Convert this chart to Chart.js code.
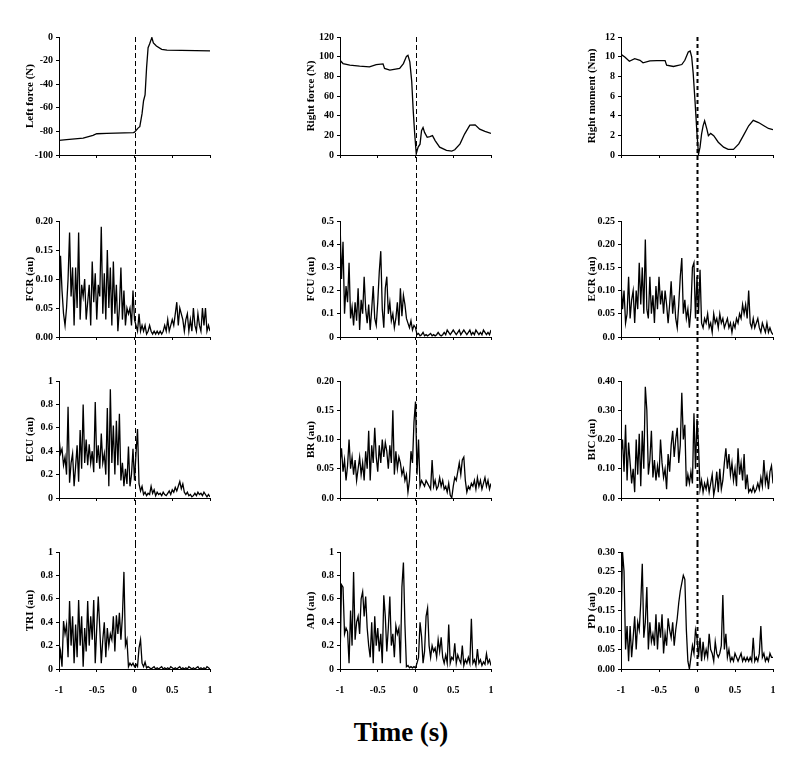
<!DOCTYPE html>
<html>
<head>
<meta charset="utf-8">
<script src="https://cdn.jsdelivr.net/npm/chart.js@4.4.0/dist/chart.umd.min.js"></script>
<style>
  body { margin: 0; background: #fff; width: 800px; height: 759px; position: relative; overflow: hidden; }
  canvas { position: absolute; }
  #xtitle { position: absolute; left: 0; width: 802px; top: 717px; text-align: center;
            font: bold 27px 'Liberation Serif', 'Times New Roman', serif; color: #000; }
</style>
</head>
<body>
<div id="xtitle">Time (s)</div>
<script>
// force / moment traces: time (s) and value
var leftForceTime = [-1, -0.9, -0.68, -0.55, -0.5, -0.37, -0.015, 0.0, 0.05, 0.07, 0.1, 0.12, 0.14, 0.16, 0.18, 0.2, 0.23, 0.25, 0.29, 0.36, 0.43, 1];
var leftForce = [-87.6, -87, -85.7, -83.4, -82, -81.7, -81, -80.6, -77, -76, -65, -54, -49, -26, -9, -6, -0.5, -5, -7.6, -10.4, -11.2, -11.8];

var rightForceTime = [-1, -0.96, -0.87, -0.74, -0.61, -0.52, -0.43, -0.41, -0.34, -0.21, -0.16, -0.12, -0.1, -0.075, -0.05, -0.03, -0.01, 0.01, 0.035, 0.06, 0.08, 0.1, 0.12, 0.155, 0.19, 0.225, 0.26, 0.32, 0.41, 0.48, 0.52, 0.59, 0.65, 0.72, 0.79, 0.85, 0.92, 1];
var rightForce = [96.3, 93, 91.3, 90.3, 89.7, 92, 92.7, 88, 86.3, 88, 93, 100.3, 101.3, 94.7, 74.7, 44.7, 21, 1.3, 8, 11, 24.7, 28, 23, 18, 18.7, 19.7, 14.7, 8, 4.7, 4, 5.3, 11.3, 21.3, 30.3, 30.7, 26.3, 24, 22];

var rightMomentTime = [-1, -0.95, -0.89, -0.82, -0.75, -0.71, -0.62, -0.53, -0.42, -0.4, -0.31, -0.2, -0.16, -0.115, -0.09, -0.07, -0.05, -0.026, 0, 0.02, 0.04, 0.06, 0.08, 0.1, 0.13, 0.15, 0.18, 0.22, 0.28, 0.35, 0.41, 0.48, 0.55, 0.61, 0.68, 0.74, 0.81, 0.88, 0.94, 1];
var rightMoment = [10.23, 9.97, 9.53, 9.8, 9.63, 9.37, 9.57, 9.6, 9.6, 9.13, 9.0, 9.2, 9.63, 10.47, 10.57, 9.97, 8.3, 5.47, 2.13, 0.07, 0.8, 2.13, 2.97, 3.47, 2.63, 1.97, 2.2, 1.97, 1.3, 0.8, 0.57, 0.57, 1.13, 1.97, 2.97, 3.53, 3.3, 2.97, 2.7, 2.57];

// EMG traces, evenly sampled from -1 s to 1 s
var fcr = [0.02, 0.14, 0.08, 0.04, 0.02, 0.05, 0.10, 0.18, 0.07, 0.12,
  0.02, 0.12, 0.05, 0.18, 0.03, 0.09, 0.07, 0.10, 0.03, 0.06,
  0.09, 0.02, 0.13, 0.06, 0.11, 0.03, 0.09, 0.07, 0.19, 0.04,
  0.11, 0.03, 0.15, 0.05, 0.12, 0.02, 0.13, 0.04, 0.09, 0.01,
  0.05, 0.12, 0.03, 0.08, 0.02, 0.05, 0.04, 0.05, 0.02, 0.08,
  0.03, 0.02, 0.01, 0.04, 0.01, 0.02, 0.01, 0.02, 0.005, 0.01,
  0.02, 0.01, 0.005, 0.01, 0.005, 0.01, 0.005, 0.01, 0.005, 0.01,
  0.02, 0.01, 0.03, 0.01, 0.02, 0.03, 0.02, 0.04, 0.06, 0.02,
  0.05, 0.04, 0.03, 0.01, 0.03, 0.04, 0.01, 0.03, 0.01, 0.05,
  0.02, 0.01, 0.04, 0.02, 0.01, 0.05, 0.02, 0.05, 0.01, 0.02, 0.01];
var fcu = [0.50, 0.25, 0.41, 0.10, 0.22, 0.15, 0.32, 0.08, 0.13, 0.05,
  0.15, 0.07, 0.21, 0.03, 0.16, 0.10, 0.26, 0.12, 0.06, 0.14,
  0.03, 0.12, 0.22, 0.08, 0.05, 0.15, 0.28, 0.37, 0.12, 0.04,
  0.21, 0.26, 0.10, 0.15, 0.07, 0.10, 0.04, 0.08, 0.15, 0.05,
  0.21, 0.09, 0.18, 0.14, 0.08, 0.06, 0.04, 0.07, 0.03, 0.05,
  0.04, 0.01, 0.015, 0.005, 0.01, 0.02, 0.005, 0.01, 0.005, 0.01,
  0.015, 0.005, 0.01, 0.005, 0.01, 0.02, 0.01, 0.005, 0.01, 0.02,
  0.01, 0.03, 0.02, 0.01, 0.02, 0.03, 0.02, 0.01, 0.02, 0.03,
  0.01, 0.02, 0.03, 0.02, 0.01, 0.02, 0.03, 0.01, 0.02, 0.01,
  0.03, 0.02, 0.01, 0.02, 0.01, 0.03, 0.02, 0.01, 0.02, 0.01, 0.03];
var ecr = [0.12, 0.06, 0.10, 0.03, 0.05, 0.13, 0.04, 0.08, 0.10, 0.03,
  0.10, 0.06, 0.16, 0.07, 0.15, 0.05, 0.21, 0.06, 0.04, 0.13,
  0.05, 0.09, 0.03, 0.11, 0.06, 0.13, 0.07, 0.10, 0.05, 0.10,
  0.07, 0.03, 0.07, 0.12, 0.05, 0.09, 0.04, 0.02, 0.07, 0.13,
  0.17, 0.05, 0.08, 0.04, 0.06, 0.02, 0.06, 0.15, 0.16, 0.04,
  0.13, 0.05, 0.145, 0.03, 0.02, 0.04, 0.03, 0.05, 0.02, 0.03,
  0.01, 0.05, 0.03, 0.04, 0.02, 0.05, 0.03, 0.04, 0.02, 0.03,
  0.04, 0.02, 0.03, 0.01, 0.03, 0.02, 0.04, 0.03, 0.05, 0.04,
  0.07, 0.05, 0.07, 0.04, 0.10, 0.03, 0.02, 0.04, 0.02, 0.03,
  0.04, 0.02, 0.01, 0.03, 0.02, 0.01, 0.03, 0.01, 0.02, 0.01, 0.005];
var ecu = [0.52, 0.38, 0.42, 0.28, 0.35, 0.20, 0.78, 0.13, 0.30, 0.38,
  0.10, 0.27, 0.45, 0.14, 0.58, 0.25, 0.80, 0.30, 0.50, 0.28,
  0.46, 0.30, 0.40, 0.22, 0.82, 0.30, 0.45, 0.25, 0.55, 0.30,
  0.38, 0.20, 0.77, 0.10, 0.93, 0.30, 0.62, 0.20, 0.66, 0.28,
  0.72, 0.15, 0.30, 0.10, 0.25, 0.12, 0.44, 0.10, 0.20, 0.42,
  0.15, 0.38, 0.59, 0.12, 0.06, 0.10, 0.03, 0.05, 0.02, 0.04,
  0.03, 0.10, 0.04, 0.07, 0.02, 0.05, 0.03, 0.04, 0.02, 0.05,
  0.03, 0.02, 0.04, 0.06, 0.03, 0.07, 0.05, 0.09, 0.06, 0.10,
  0.14, 0.08, 0.12, 0.05, 0.03, 0.05, 0.02, 0.03, 0.01, 0.02,
  0.04, 0.02, 0.05, 0.03, 0.04, 0.02, 0.05, 0.03, 0.01, 0.03, 0.01];
var br = [0.06, 0.085, 0.045, 0.065, 0.03, 0.055, 0.10, 0.05, 0.07, 0.04,
  0.065, 0.03, 0.05, 0.07, 0.04, 0.06, 0.03, 0.08, 0.05, 0.115,
  0.03, 0.09, 0.06, 0.12, 0.07, 0.045, 0.09, 0.06, 0.10, 0.07,
  0.095, 0.08, 0.05, 0.09, 0.06, 0.15, 0.04, 0.08, 0.05, 0.07,
  0.06, 0.04, 0.05, 0.03, 0.04, 0.01, 0.03, 0.08, 0.06, 0.13,
  0.165, 0.04, 0.10, 0.02, 0.03, 0.025, 0.02, 0.03, 0.025, 0.02,
  0.015, 0.065, 0.02, 0.03, 0.015, 0.02, 0.035, 0.02, 0.03, 0.015,
  0.02, 0.01, 0.025, 0.005, 0.0, 0.02, 0.035, 0.03, 0.045, 0.06,
  0.04, 0.065, 0.07, 0.03, 0.01, 0.02, 0.015, 0.025, 0.02, 0.03,
  0.015, 0.035, 0.02, 0.03, 0.015, 0.025, 0.035, 0.02, 0.03, 0.015, 0.025];
var bic = [0.15, 0.20, 0.09, 0.25, 0.06, 0.19, 0.12, 0.05, 0.10, 0.02,
  0.20, 0.08, 0.22, 0.04, 0.23, 0.10, 0.38, 0.30, 0.08, 0.13,
  0.23, 0.07, 0.13, 0.06, 0.11, 0.07, 0.20, 0.12, 0.07, 0.10,
  0.03, 0.15, 0.09, 0.18, 0.23, 0.14, 0.20, 0.24, 0.12, 0.18,
  0.36, 0.20, 0.25, 0.04, 0.08, 0.05, 0.09, 0.05, 0.29, 0.10,
  0.27, 0.18, 0.03, 0.06, 0.02, 0.05, 0.03, 0.06, 0.02, 0.05,
  0.08, 0.01, 0.04, 0.09, 0.02, 0.10, 0.03, 0.06, 0.12, 0.17,
  0.10, 0.15, 0.08, 0.12, 0.06, 0.10, 0.04, 0.17, 0.08, 0.12,
  0.06, 0.15, 0.03, 0.08, 0.02, 0.03, 0.02, 0.04, 0.02, 0.03,
  0.05, 0.03, 0.07, 0.04, 0.13, 0.05, 0.08, 0.03, 0.09, 0.11, 0.05];
var tri = [0.05, 0.15, 0.02, 0.41, 0.30, 0.38, 0.10, 0.58, 0.20, 0.45,
  0.05, 0.38, 0.10, 0.59, 0.20, 0.45, 0.02, 0.35, 0.15, 0.58,
  0.20, 0.45, 0.25, 0.59, 0.05, 0.35, 0.62, 0.35, 0.05, 0.25,
  0.40, 0.10, 0.35, 0.20, 0.30, 0.25, 0.45, 0.15, 0.46, 0.30,
  0.48, 0.25, 0.45, 0.83, 0.20, 0.25, 0.02, 0.05, 0.03, 0.05,
  0.02, 0.04, 0.02, 0.18, 0.25, 0.05, 0.02, 0.06, 0.01, 0.02,
  0.01, 0.0, 0.01, 0.02, 0.0, 0.01, 0.0, 0.01, 0.02, 0.0,
  0.01, 0.0, 0.01, 0.0, 0.02, 0.01, 0.0, 0.01, 0.0, 0.01,
  0.02, 0.0, 0.01, 0.0, 0.01, 0.0, 0.02, 0.01, 0.0, 0.01,
  0.0, 0.01, 0.02, 0.0, 0.01, 0.0, 0.01, 0.0, 0.02, 0.01, 0.0];
var ad = [0.05, 0.72, 0.70, 0.30, 0.35, 0.32, 0.05, 0.50, 0.20, 0.83,
  0.25, 0.40, 0.45, 0.30, 0.60, 0.66, 0.45, 0.62, 0.35, 0.20,
  0.10, 0.40, 0.05, 0.45, 0.20, 0.35, 0.15, 0.30, 0.05, 0.63,
  0.45, 0.15, 0.35, 0.62, 0.20, 0.30, 0.10, 0.37, 0.30, 0.35,
  0.05, 0.70, 0.91, 0.38, 0.02, 0.03, 0.01, 0.02, 0.01, 0.02,
  0.01, 0.05, 0.10, 0.40, 0.28, 0.05, 0.15, 0.45, 0.52, 0.20,
  0.10, 0.20, 0.15, 0.18, 0.10, 0.25, 0.15, 0.27, 0.10, 0.05,
  0.12, 0.05, 0.38, 0.05, 0.10, 0.08, 0.22, 0.05, 0.12, 0.08,
  0.05, 0.20, 0.03, 0.08, 0.05, 0.10, 0.05, 0.43, 0.05, 0.08,
  0.03, 0.17, 0.05, 0.08, 0.03, 0.06, 0.04, 0.13, 0.05, 0.08, 0.03];
var pd = [0.10, 0.30, 0.25, 0.05, 0.11, 0.02, 0.11, 0.03, 0.08, 0.135,
  0.05, 0.12, 0.10, 0.17, 0.27, 0.08, 0.12, 0.21, 0.05, 0.12,
  0.07, 0.09, 0.06, 0.14, 0.05, 0.12, 0.08, 0.14, 0.04, 0.09,
  0.06, 0.13, 0.10, 0.08, 0.12, 0.06, 0.10, 0.13, 0.17, 0.20,
  0.22, 0.24, 0.23, 0.10, 0.02, 0.00, 0.03, 0.06, 0.04, 0.10,
  0.08, 0.03, 0.08, 0.02, 0.07, 0.03, 0.05, 0.03, 0.09, 0.05,
  0.04, 0.02, 0.07, 0.04, 0.03, 0.04, 0.06, 0.19, 0.05, 0.09,
  0.03, 0.05, 0.02, 0.03, 0.02, 0.04, 0.03, 0.02, 0.03, 0.04,
  0.02, 0.03, 0.02, 0.03, 0.02, 0.03, 0.02, 0.08, 0.02, 0.03,
  0.02, 0.04, 0.11, 0.03, 0.04, 0.02, 0.03, 0.02, 0.04, 0.03, 0.03];

// tick labels, bottom to top
var leftForceTicks = ['-100', '-80', '-60', '-40', '-20', '0'];
var rightForceTicks = ['0', '20', '40', '60', '80', '100', '120'];
var rightMomentTicks = ['0', '2', '4', '6', '8', '10', '12'];
var fcrTicks = ['0.00', '0.05', '0.10', '0.15', '0.20'];
var fcuTicks = ['0', '0.1', '0.2', '0.3', '0.4', '0.5'];
var ecrTicks = ['0.0', '0.05', '0.10', '0.15', '0.20', '0.25'];
var ecuTicks = ['0', '0.2', '0.4', '0.6', '0.8', '1'];
var brTicks = ['0.0', '0.05', '0.10', '0.15', '0.20'];
var bicTicks = ['0.0', '0.10', '0.20', '0.30', '0.40'];
var triTicks = ['0', '0.2', '0.4', '0.6', '0.8', '1'];
var adTicks = ['0', '0.2', '0.4', '0.6', '0.8', '1'];
var pdTicks = ['0.00', '0.05', '0.10', '0.15', '0.20', '0.25', '0.30'];
var timeTicks = ['-1', '-0.5', '0', '0.5', '1'];

Chart.defaults.font.family = "'Liberation Serif', 'Times New Roman', serif";
Chart.defaults.font.weight = 'bold';
Chart.defaults.font.size = 10;
Chart.defaults.color = '#000';

// plot boxes in page pixels
var cols = [{L: 59, R: 210}, {L: 340, R: 491}, {L: 621, R: 773}];
var rows = [{T: 36, B: 155}, {T: 220, B: 337}, {T: 380, B: 498}, {T: 551, B: 669}];
var AXIS_W = 56;
var PAD_R = 20;

function evenPoints(vals) {
    var n = vals.length;
    return vals.map(function (v, i) { return {x: -1 + 2 * i / (n - 1), y: v}; });
}
function pairPoints(ts, vals) {
    return ts.map(function (t, i) { return {x: t, y: vals[i]}; });
}

const zeroLine = {
    id: 'zeroLine',
    afterDatasetsDraw(chart, args, opts) {
        var ctx = chart.ctx;
        var x = Math.round(chart.scales.x.getPixelForValue(0)) + 0.5;
        var y0 = opts.fromArea ? chart.chartArea.top : 0;
        var y1 = opts.toArea ? chart.chartArea.bottom : chart.height;
        ctx.save();
        ctx.strokeStyle = '#000';
        ctx.lineWidth = opts.width;
        ctx.setLineDash(opts.dash);
        ctx.beginPath();
        ctx.moveTo(x, y0);
        ctx.lineTo(x, y1);
        ctx.stroke();
        ctx.restore();
    }
};

function panel(col, row, title, points, min, max, step, labels) {
    var c = cols[col], r = rows[row];
    var top = r.T - 8;
    var bottom = row < 3 ? rows[row + 1].T - 8 : 705;
    var h = bottom - top;
    var w = c.R - c.L + AXIS_W + PAD_R;
    var xh = h - 8 - (r.B - r.T);
    var canvas = document.createElement('canvas');
    canvas.width = w;
    canvas.height = h;
    canvas.style.left = (c.L - AXIS_W) + 'px';
    canvas.style.top = top + 'px';
    document.body.appendChild(canvas);

    new Chart(canvas, {
        type: 'line',
        data: {
            datasets: [{
                data: points,
                borderColor: '#000',
                borderWidth: 1.3,
                pointRadius: 0,
                tension: 0,
                fill: false
            }]
        },
        options: {
            responsive: false,
            animation: false,
            events: [],
            parsing: false,
            layout: {padding: {top: 8, right: PAD_R, bottom: 0, left: 0}},
            plugins: {
                legend: {display: false},
                tooltip: {enabled: false},
                zeroLine: {
                    fromArea: row === 0,
                    toArea: row === 3,
                    width: col === 2 ? 2 : 1,
                    dash: col === 2 ? [4, 3] : [5, 3]
                }
            },
            scales: {
                x: {
                    type: 'linear',
                    min: -1, max: 1,
                    afterFit: function (s) { s.height = xh; },
                    border: {color: '#000', width: 1},
                    grid: {display: true, drawOnChartArea: false, drawTicks: true, tickLength: 3, color: '#000'},
                    ticks: {
                        display: row === 3,
                        stepSize: 0.5,
                        padding: 12,
                        maxRotation: 0,
                        callback: function (v) { return timeTicks[Math.round((v + 1) / 0.5)]; }
                    }
                },
                y: {
                    type: 'linear',
                    min: min, max: max,
                    afterFit: function (s) { s.width = AXIS_W; },
                    border: {color: '#000', width: 1},
                    grid: {display: true, drawOnChartArea: false, drawTicks: true, tickLength: 3, color: '#000'},
                    title: {
                        display: true,
                        text: title,
                        font: {size: 11, weight: 'bold'},
                        padding: {top: 21, bottom: 0}
                    },
                    ticks: {
                        stepSize: step,
                        padding: 3,
                        callback: function (v) { return labels[Math.round((v - min) / step)]; }
                    }
                }
            }
        },
        plugins: [zeroLine]
    });
}

panel(0, 0, 'Left force (N)', pairPoints(leftForceTime, leftForce), -100, 0, 20, leftForceTicks);
panel(1, 0, 'Right force (N)', pairPoints(rightForceTime, rightForce), 0, 120, 20, rightForceTicks);
panel(2, 0, 'Right moment (Nm)', pairPoints(rightMomentTime, rightMoment), 0, 12, 2, rightMomentTicks);
panel(0, 1, 'FCR (au)', evenPoints(fcr), 0, 0.2, 0.05, fcrTicks);
panel(1, 1, 'FCU (au)', evenPoints(fcu), 0, 0.5, 0.1, fcuTicks);
panel(2, 1, 'ECR (au)', evenPoints(ecr), 0, 0.25, 0.05, ecrTicks);
panel(0, 2, 'ECU (au)', evenPoints(ecu), 0, 1, 0.2, ecuTicks);
panel(1, 2, 'BR (au)', evenPoints(br), 0, 0.2, 0.05, brTicks);
panel(2, 2, 'BIC (au)', evenPoints(bic), 0, 0.4, 0.1, bicTicks);
panel(0, 3, 'TRI (au)', evenPoints(tri), 0, 1, 0.2, triTicks);
panel(1, 3, 'AD (au)', evenPoints(ad), 0, 1, 0.2, adTicks);
panel(2, 3, 'PD (au)', evenPoints(pd), 0, 0.3, 0.05, pdTicks);
</script>
</body>
</html>
